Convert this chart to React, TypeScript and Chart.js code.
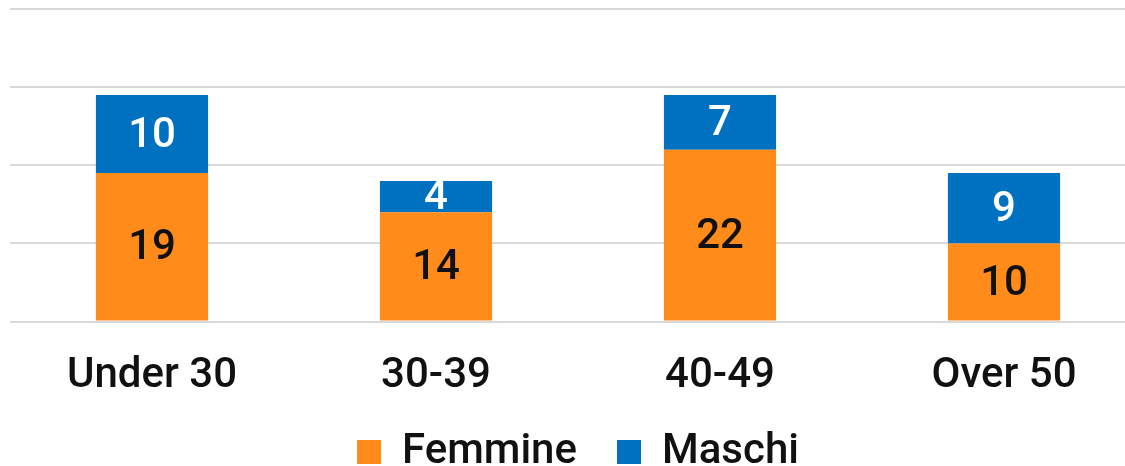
import React, { useEffect, useRef } from "react";
import { Chart, registerables } from "chart.js";

Chart.register(...registerables);

const categories = ["Under 30", "30-39", "40-49", "Over 50"];
const femmine = [19, 14, 22, 10];
const maschi = [10, 4, 7, 9];

const FONT = "Roboto, 'Noto Sans', sans-serif";

const dataLabelPlugin = {
  id: "segLabels",
  afterDatasetsDraw(chart: any) {
    const ctx = chart.ctx;
    ctx.save();
    ctx.font = `500 42px ${FONT}`;
    ctx.textAlign = "center";
    ctx.textBaseline = "middle";
    chart.data.datasets.forEach((ds: any, di: number) => {
      const meta = chart.getDatasetMeta(di);
      if (meta.hidden) return;
      meta.data.forEach((el: any, i: number) => {
        const v = ds.data[i];
        const cy = (el.y + el.base) / 2;
        ctx.fillStyle = ds.labelColor;
        ctx.fillText(String(v), el.x, cy + 2);
      });
    });
    ctx.restore();
  },
};

export default function App() {
  const ref = useRef<HTMLCanvasElement>(null);
  useEffect(() => {
    const chart = new Chart(ref.current!, {
      type: "bar",
      data: {
        labels: categories,
        datasets: [
          {
            label: "Femmine",
            data: femmine,
            backgroundColor: "#FF8C1A",
            labelColor: "#111111",
            categoryPercentage: 1,
            barPercentage: 0.395,
          } as any,
          {
            label: "Maschi",
            data: maschi,
            backgroundColor: "#0070C0",
            labelColor: "#ffffff",
            categoryPercentage: 1,
            barPercentage: 0.395,
          } as any,
        ],
      },
      options: {
        responsive: false,
        animation: false,
        layout: { padding: { left: 10, right: 10, top: 9, bottom: -17 } },
        scales: {
          x: {
            stacked: true,
            grid: { display: false },
            border: { display: false },
            ticks: {
              color: "#111111",
              font: { family: FONT, size: 42, weight: "500" },
              padding: 22,
            },
            afterFit(scale: any) {
              scale.height -= 33;
            },
          } as any,
          y: {
            stacked: true,
            min: 0,
            max: 40,
            ticks: { display: false, stepSize: 10 },
            grid: { color: "#d9d9d9", lineWidth: 2, drawTicks: false },
            border: { display: false },
          },
        },
        plugins: {
          legend: {
            position: "bottom",
            labels: {
              boxWidth: 24,
              boxHeight: 24,
              padding: 40,
              color: "#111111",
              font: { family: FONT, size: 42, weight: "500" },
            },
          },
          tooltip: { enabled: false },
        },
      },
      plugins: [dataLabelPlugin],
    });
    return () => chart.destroy();
  }, []);
  return (
    <div
      style={{
        position: "fixed",
        left: 0,
        top: 0,
        width: 1125,
        height: 466,
        overflow: "hidden",
        background: "#fff",
      }}
    >
      <canvas ref={ref} width={1156} height={466} style={{ display: "block" }} />
    </div>
  );
}
